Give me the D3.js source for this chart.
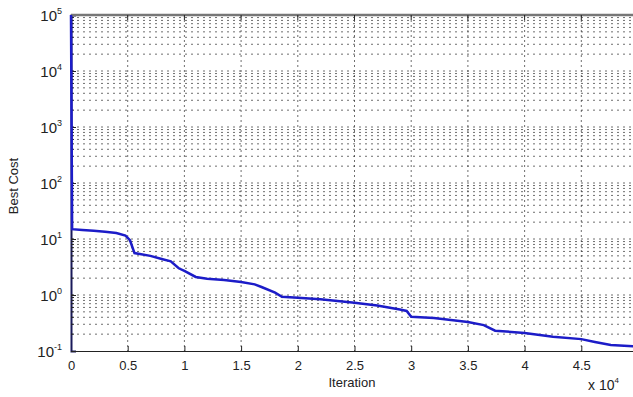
<!DOCTYPE html>
<html>
<head>
<meta charset="utf-8">
<script src="https://cdn.jsdelivr.net/npm/d3@7"></script>
<style>
  body { margin: 0; background: #fff; }
  text { font-family: "Liberation Sans", Arial, sans-serif; fill: #222; }
</style>
</head>
<body>
<div id="chart"></div>
<script>
// iterations (x 10^4) and best cost
const iterations = [0, 0.01, 0.1, 0.2, 0.3, 0.4, 0.48, 0.52, 0.56, 0.7, 0.8, 0.88, 0.95, 1.0, 1.1, 1.2, 1.35, 1.5, 1.62, 1.68, 1.8, 1.86, 2.0, 2.2, 2.5, 2.7, 2.9, 2.96, 3.0, 3.2, 3.5, 3.64, 3.74, 4.0, 4.25, 4.5, 4.62, 4.76, 5.0];
const bestCost   = [1e5, 15, 14.5, 14, 13.5, 12.8, 11.5, 9.5, 5.6, 5.0, 4.4, 4.0, 3.0, 2.7, 2.1, 1.95, 1.85, 1.7, 1.55, 1.39, 1.1, 0.93, 0.89, 0.84, 0.73, 0.65, 0.55, 0.52, 0.41, 0.39, 0.33, 0.29, 0.23, 0.21, 0.18, 0.163, 0.145, 0.128, 0.12];

const xTicks = [0, 0.5, 1, 1.5, 2, 2.5, 3, 3.5, 4, 4.5, 5];
const yDecades = [-1, 0, 1, 2, 3, 4, 5];

const width = 633, height = 397;
const plotLeft = 71, plotTop = 15, plotBottom = 351, plotRight = 638;

const svg = d3.select('#chart')
              .append('svg')
              .attr('width', width)
              .attr('height', height);

let scaleX = d3.scaleLinear().domain([0, 5]).range([plotLeft, plotRight]);
let scaleY = d3.scaleLog().domain([0.1, 1e5]).range([plotBottom, plotTop]);

// grid: minor (2..9) and major decades, dotted
let gridY = [];
for (let e = -1; e < 5; e++) {
    for (let m = 1; m < 10; m++) gridY.push(m * Math.pow(10, e));
}
gridY = gridY.filter(v => v > 0.1);

svg.append('g').selectAll('line')
    .data(gridY)
    .enter().append('line')
    .attr('x1', plotLeft).attr('x2', plotRight)
    .attr('y1', d => scaleY(d)).attr('y2', d => scaleY(d))
    .style('stroke', '#333')
    .style('stroke-width', 1)
    .style('stroke-dasharray', '2,4')
    .style('opacity', 0.7);

svg.append('g').selectAll('line')
    .data(xTicks.filter(v => v > 0 && v < 5))
    .enter().append('line')
    .attr('x1', d => scaleX(d)).attr('x2', d => scaleX(d))
    .attr('y1', plotTop).attr('y2', plotBottom)
    .style('stroke', '#333')
    .style('stroke-width', 1)
    .style('stroke-dasharray', '2,3')
    .style('opacity', 0.7);

// axes
let xAxis = d3.axisBottom(scaleX).tickValues(xTicks).tickSize(-5).tickPadding(10)
              .tickFormat(d => d);
svg.append('g')
   .attr('transform', 'translate(0,' + plotBottom + ')')
   .call(xAxis)
   .call(g => g.select('.domain').style('stroke', '#222'))
   .call(g => g.selectAll('.tick line').style('stroke', '#222'))
   .call(g => g.selectAll('text').style('font-size', '13px')
               .style('font-family', '"Liberation Sans", Arial, sans-serif').style('fill', '#222'));

let yAxis = d3.axisLeft(scaleY).tickValues(yDecades.map(e => Math.pow(10, e)))
              .tickSize(-5).tickFormat('');
svg.append('g')
   .attr('transform', 'translate(' + plotLeft + ',0)')
   .call(yAxis)
   .call(g => g.select('.domain').style('stroke', '#1a1a5a').style('stroke-width', 2))
   .call(g => g.selectAll('.tick line').style('stroke', '#222'));

// minor ticks on y axis
svg.append('g').selectAll('line')
    .data(gridY)
    .enter().append('line')
    .attr('x1', plotLeft).attr('x2', plotLeft + 3)
    .attr('y1', d => scaleY(d)).attr('y2', d => scaleY(d))
    .style('stroke', '#222');

// y labels: 10^e
let ylab = svg.append('g').selectAll('text')
    .data(yDecades)
    .enter().append('text')
    .attr('x', 62)
    .attr('y', d => scaleY(Math.pow(10, d)) + 6)
    .style('text-anchor', 'end')
    .style('font-size', '15px');
ylab.append('tspan').text('10');
ylab.append('tspan').attr('dy', -7).style('font-size', '9px').text(d => d);

// top border
svg.append('line')
   .attr('x1', plotLeft).attr('x2', plotRight)
   .attr('y1', plotTop).attr('y2', plotTop)
   .style('stroke', '#777').style('stroke-width', 2.5);

// top x ticks
svg.append('g').selectAll('line')
    .data(xTicks)
    .enter().append('line')
    .attr('x1', d => scaleX(d)).attr('x2', d => scaleX(d))
    .attr('y1', plotTop).attr('y2', plotTop + 5)
    .style('stroke', '#222');

// the cost line
let line = d3.line()
    .x((d, i) => scaleX(iterations[i]))
    .y(d => scaleY(d));

svg.append('path')
   .datum(bestCost)
   .attr('d', line)
   .style('fill', 'none')
   .style('stroke', '#1c1cc8')
   .style('stroke-width', 2.5);

// labels
svg.append('text')
   .attr('x', 352).attr('y', 387)
   .style('text-anchor', 'middle')
   .style('font-size', '13px')
   .text('Iteration');

svg.append('text')
   .attr('transform', 'translate(18,186) rotate(-90)')
   .style('text-anchor', 'middle')
   .style('font-size', '13px')
   .text('Best Cost');

let mult = svg.append('text')
   .attr('x', 588).attr('y', 390)
   .style('font-size', '14px');
mult.append('tspan').text('x 10');
mult.append('tspan').attr('dy', -7).style('font-size', '8px').text('4');
</script>
</body>
</html>
